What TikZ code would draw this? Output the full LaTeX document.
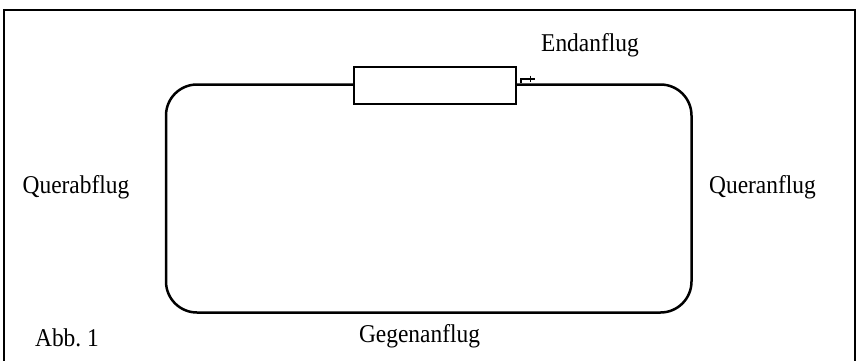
\documentclass[tikz,border=0pt]{standalone}
\usepackage{fontspec}
\setmainfont{Liberation Serif}
\begin{document}
\begin{tikzpicture}[x=1pt,y=-1pt,
  lbl/.style={font=\fontsize{25.6}{30}\selectfont, inner sep=0pt, anchor=base, xscale=0.915},
  frame/.style={line width=2pt},
  circuit/.style={line width=2.5pt, rounded corners=31pt},
  runway/.style={line width=2.2pt, fill=white},
  tick/.style={line width=1.3pt}]
\useasboundingbox (0,0) rectangle (857,360);
% outer frame (open at bottom)
\draw[frame] (3.5,362) -- (3.5,9.5) -- (854.5,9.5) -- (854.5,362);
% traffic circuit
\draw[circuit] (166,84.5) rectangle (691.5,312.5);
% runway
\node[runway, draw, minimum width=162pt, minimum height=37pt, inner sep=0pt] (rw) at (435,85.5) {};
% small direction mark
\coordinate (m1) at (521,83);
\coordinate (m2) at (521,79);
\coordinate (m3) at (535,79);
\draw[tick] (m1) -- (m2) -- (m3);
\draw[tick] (530.7,75.5) -- (530.7,82);
% labels
\node[lbl] (end) at (590,51) {Endanflug};
\node[lbl] (qab) at (76,193) {Querabflug};
\node[lbl] (qan) at (762.5,193.5) {Queranflug};
\node[lbl] (geg) at (419.5,342) {Gegenanflug};
\node[lbl] (abb) at (67,346) {Abb.\ 1};
\end{tikzpicture}
\end{document}
